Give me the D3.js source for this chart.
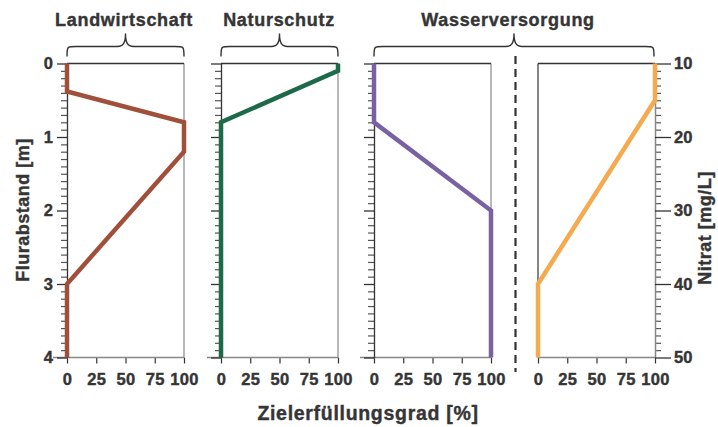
<!DOCTYPE html>
<html><head><meta charset="utf-8">
<script src="https://cdn.jsdelivr.net/npm/d3@7"></script>
<style>
body{margin:0;background:#fff;}
svg text{font-family:Arial,"Liberation Sans",Helvetica,sans-serif;font-weight:bold;stroke:#353535;stroke-width:0.4px;}
</style></head>
<body><svg id="c" width="718" height="427"></svg>
<script>
// ---- data ----
const panelTitles = ["Landwirtschaft", "Naturschutz", "Wasserversorgung"];
const xTicks = [0, 25, 50, 75, 100];
const depthTicks = [0, 1, 2, 3, 4];
const nitratTicks = [10, 20, 30, 40, 50];
const landwirtschaft = [[0,0],[0,0.38],[100,0.8],[100,1.2],[0,3.0],[0,4]];
const naturschutz = [[100,0],[100,0.1],[0,0.8],[0,4]];
const wasserFlur = [[0,0],[0,0.8],[100,2.0],[100,4]];
const wasserNitrat = [[100,10],[100,15],[0,40],[0,50]];
const seriesColors = ["#a0503a", "#1c6a4a", "#7962a2", "#f6aa50"];

(function(){
const svg = d3.select("#c");
const yTop = 63.5, yBot = 357.5, pw = 117;
const lefts = [67, 221, 374, 538];
const yDepth = d3.scaleLinear().domain([0,4]).range([yTop,yBot]);
const yNit = d3.scaleLinear().domain([10,50]).range([yTop,yBot]);
const dark = "#333", gray = "#888", txt = "#353535";

const panels = [
  {data: landwirtschaft, y: yDepth, color: seriesColors[0]},
  {data: naturschutz, y: yDepth, color: seriesColors[1]},
  {data: wasserFlur, y: yDepth, color: seriesColors[2]},
  {data: wasserNitrat, y: yNit, color: seriesColors[3], right: true}
];

panels.forEach((p, i) => {
  const x0 = lefts[i];
  const x = d3.scaleLinear().domain([0,100]).range([x0, x0+pw]);
  const g = svg.append("g");
  const bx = g.append("g").attr("transform", `translate(0,${yBot})`)
    .call(d3.axisBottom(x).tickValues(xTicks).tickFormat(d3.format("d")).tickSize(6).tickPadding(10).tickSizeOuter(0));
  bx.select(".domain").remove();
  bx.selectAll(".tick line").attr("stroke", dark).attr("stroke-width", 1.2);
  bx.selectAll("text").attr("font-size", 16.5).style("fill", txt).style("letter-spacing","0.4px");
  g.append("line").attr("x1", p.right ? x0 : x0-14).attr("x2", x0+pw)
    .attr("y1", yBot).attr("y2", yBot).attr("stroke", gray).attr("stroke-width", 1.5);
  if (!p.right) {
    g.append("line").attr("x1", x0+pw).attr("x2", x0+pw).attr("y1", yTop).attr("y2", yBot)
      .attr("stroke", gray).attr("stroke-width", 1.2);
    const minor = g.append("g").attr("transform", `translate(${x0},0)`)
      .call(d3.axisLeft(yDepth).tickValues(d3.range(1,40).filter(d=>d%10).map(d=>d/10)).tickSize(6).tickFormat(""));
    minor.select(".domain").remove();
    minor.selectAll("line").attr("stroke", "#555").attr("stroke-width", 1.2);
    const major = g.append("g").attr("transform", `translate(${x0},0)`)
      .call(d3.axisLeft(yDepth).tickValues(depthTicks).tickFormat(d3.format("d")).tickSize(10).tickPadding(4).tickSizeOuter(0));
    major.select(".domain").attr("stroke", dark).attr("stroke-width", 1.3);
    major.selectAll(".tick line").attr("stroke", dark).attr("stroke-width", 1.3);
    if (i === 0) major.selectAll("text").attr("font-size", 16.5).style("fill", txt);
    else major.selectAll("text").remove();
    g.append("line").attr("x1", x0).attr("x2", x0+pw).attr("y1", yTop).attr("y2", yTop)
      .attr("stroke", dark).attr("stroke-width", 1.3);
  } else {
    g.append("line").attr("x1", x0).attr("x2", x0).attr("y1", yTop).attr("y2", yBot)
      .attr("stroke", dark).attr("stroke-width", 1.2);
    const xr = x0 + pw;
    const minor = g.append("g").attr("transform", `translate(${xr},0)`)
      .call(d3.axisRight(yNit).tickValues(d3.range(11,50).filter(d=>d%10)).tickSize(6).tickFormat(""));
    minor.select(".domain").remove();
    minor.selectAll("line").attr("stroke", "#555").attr("stroke-width", 1.2);
    const major = g.append("g").attr("transform", `translate(${xr},0)`)
      .call(d3.axisRight(yNit).tickValues(nitratTicks).tickFormat(d3.format("d")).tickSize(16).tickPadding(3).tickSizeOuter(0));
    major.select(".domain").attr("stroke", gray).attr("stroke-width", 1.5);
    major.selectAll(".tick line").attr("stroke", dark).attr("stroke-width", 1.3);
    major.selectAll("text").attr("font-size", 16.5).style("fill", txt);
    g.append("line").attr("x1", x0).attr("x2", xr).attr("y1", yTop).attr("y2", yTop)
      .attr("stroke", dark).attr("stroke-width", 1.3);
  }
  const line = d3.line().x(d => x(d[0])).y(d => p.y(d[1]));
  g.append("path").datum(p.data).attr("d", line).attr("fill", "none")
    .attr("stroke", p.color).attr("stroke-width", 4.5).attr("stroke-linejoin", "miter");
});

function brace(xa, xb, xm) {
  const yt = 56.5, yf = 46.5, yp = 33.5, r = 9;
  return `M${xa},${yt} C${xa},${yf} ${xa},${yf} ${xa+r},${yf} L${xm-8},${yf} C${xm-2},${yf} ${xm},${yf-4} ${xm},${yp}` +
    ` C${xm},${yf-4} ${xm+2},${yf} ${xm+8},${yf} L${xb-r},${yf} C${xb},${yf} ${xb},${yf} ${xb},${yt}`;
}
const braces = [[67,184],[221,338],[374,654]];
const titleX = [124, 279, 508];
braces.forEach((b, i) => {
  const xm = i === 2 ? 514 : (b[0]+b[1])/2;
  svg.append("path").attr("d", brace(b[0], b[1], xm)).attr("fill","none")
    .attr("stroke", dark).attr("stroke-width", 1.4);
  svg.append("text").attr("x", titleX[i]).attr("y", 26).attr("text-anchor","middle")
    .attr("font-size", 18).style("fill", txt).style("letter-spacing","0.7px").text(panelTitles[i]);
});

svg.append("line").attr("x1", 515.5).attr("x2", 515.5).attr("y1", 56).attr("y2", 372)
  .attr("stroke", "#333").attr("stroke-width", 2.2).attr("stroke-dasharray", "8,5");

svg.append("text").attr("transform","translate(29,210) rotate(-90)").attr("text-anchor","middle")
  .attr("font-size", 18).style("fill", txt).style("letter-spacing","0.5px").text("Flurabstand [m]");
svg.append("text").attr("transform","translate(711,228) rotate(-90)").attr("text-anchor","middle")
  .attr("font-size", 18).style("fill", txt).style("letter-spacing","0.5px").text("Nitrat [mg/L]");
svg.append("text").attr("x", 368).attr("y", 420).attr("text-anchor","middle")
  .attr("font-size", 19.5).style("fill", txt).style("letter-spacing","0.7px").text("Zielerfüllungsgrad [%]");
})();
</script></body></html>
